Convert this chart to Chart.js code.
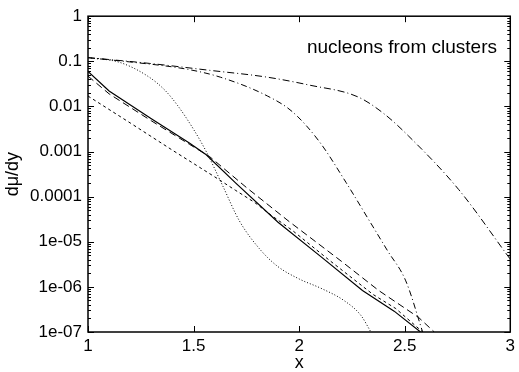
<!DOCTYPE html>
<html>
<head>
<meta charset="utf-8">
<title>nucleons from clusters</title>
<script src="https://cdn.jsdelivr.net/npm/chart.js@4/dist/chart.umd.min.js"></script>
<style>
  html, body { margin: 0; padding: 0; background: #fff; }
</style>
</head>
<body>
<canvas id="chart" width="519" height="372"></canvas>
<script>
// Axis ticks
const xTickValues = [1, 1.5, 2, 2.5, 3];
const xTickLabels = ['1', '1.5', '2', '2.5', '3'];
const yTickValues = [1, 0.1, 0.01, 0.001, 1e-4, 1e-5, 1e-6, 1e-7];
const yTickLabels = ['1', '0.1', '0.01', '0.001', '0.0001', '1e-05', '1e-06', '1e-07'];

// Solid curve
const solidX = [1, 1.1, 1.3, 1.48, 1.56, 1.7, 1.9, 2.1, 2.3, 2.45, 2.575];
const solidY = [0.06, 0.022, 5.3e-3, 1.55e-3, 8.5e-4, 2.0e-4, 2.7e-5, 4.8e-6, 8.3e-7, 2.9e-7, 1e-7];

// Long dashes (starts just under the solid, ends uppermost)
const longDashX = [1, 1.1, 1.3, 1.48, 1.575, 1.75, 1.953, 2.2, 2.377, 2.566, 2.64];
const longDashY = [0.047, 0.019, 4.8e-3, 1.45e-3, 7.8e-4, 1.6e-4, 2.8e-5, 3.7e-6, 8.3e-7, 2.1e-7, 1e-7];

// Short dashes (lowest at x = 1)
const shortDashX = [1, 1.2, 1.4, 1.6, 1.7, 1.79, 1.87, 1.967, 2.14, 2.35, 2.458, 2.585];
const shortDashY = [0.017, 4.3e-3, 1.07e-3, 2.75e-4, 1.37e-4, 7.4e-5, 3.8e-5, 1.8e-5, 4.0e-6, 6.8e-7, 3.3e-7, 1e-7];

// Dotted curve
const dottedX = [1, 1.151, 1.283, 1.363, 1.425, 1.5, 1.561, 1.637, 1.717, 1.811, 1.896, 2.0, 2.108, 2.212, 2.292, 2.34];
const dottedY = [0.121, 0.0944, 0.0468, 0.0232, 0.0104, 3.1e-3, 9.8e-4, 1.78e-4, 2.91e-5, 7.1e-6, 2.9e-6, 1.5e-6, 9.1e-7, 5.0e-7, 2.35e-7, 1e-7];

// Dash-dot, slow fall-off
const slowDotDashX = [1, 1.2925, 1.5755, 1.849, 2.047, 2.278, 2.401, 2.519, 2.755, 3.0];
const slowDotDashY = [0.121, 0.0898, 0.0632, 0.0445, 0.0298, 0.0163, 6.94e-3, 2.19e-3, 1.45e-4, 4.1e-6];

// Dash-dot, fast fall-off
const fastDotDashX = [1, 1.198, 1.472, 1.627, 1.849, 1.967, 2.094, 2.222, 2.33, 2.4175, 2.505, 2.585];
const fastDotDashY = [0.12, 0.097, 0.0664, 0.0445, 0.0171, 7.7e-3, 1.7e-3, 2.07e-4, 3.06e-5, 6.46e-6, 1.36e-6, 1e-7];

const annotationText = 'nucleons from clusters';

const FONT = '"Liberation Sans", Arial, Helvetica, sans-serif';

function toPoints(xs, ys) {
  return xs.map((x, i) => ({ x: x, y: ys[i] }));
}

function curve(xs, ys, dash, width, smooth) {
  return {
    data: toPoints(xs, ys),
    borderColor: '#000',
    borderWidth: width || 1,
    borderDash: dash,
    pointRadius: 0,
    tension: 0,
    cubicInterpolationMode: smooth ? 'monotone' : 'default',
    fill: false
  };
}

// Inward ticks on all four sides, the box and the annotation
const frameAndTicks = {
  id: 'frameAndTicks',
  afterDatasetsDraw(chart) {
    const { ctx, chartArea: a, scales: { x, y } } = chart;
    ctx.save();
    ctx.strokeStyle = '#000';
    ctx.lineWidth = 1;
    ctx.beginPath();
    for (let e = -7; e <= 0; e++) {
      for (let m = 1; m <= 9; m++) {
        const v = m * Math.pow(10, e);
        if (v > 1) break;
        const py = Math.round(y.getPixelForValue(v)) + 0.5;
        const len = m === 1 ? 6 : 3;
        ctx.moveTo(a.left, py); ctx.lineTo(a.left + len, py);
        ctx.moveTo(a.right, py); ctx.lineTo(a.right - len, py);
      }
    }
    xTickValues.forEach(v => {
      const px = Math.round(x.getPixelForValue(v)) + 0.5;
      ctx.moveTo(px, a.bottom); ctx.lineTo(px, a.bottom - 6);
      ctx.moveTo(px, a.top); ctx.lineTo(px, a.top + 6);
    });
    ctx.stroke();

    ctx.lineWidth = 1.5;
    ctx.strokeRect(a.left, a.top, a.right - a.left, a.bottom - a.top);

    ctx.fillStyle = '#000';
    ctx.font = '19px ' + FONT;
    ctx.textAlign = 'right';
    ctx.textBaseline = 'alphabetic';
    ctx.fillText(annotationText, 497, 53);
    ctx.restore();
  }
};

new Chart(document.getElementById('chart'), {
  type: 'line',
  data: {
    datasets: [
      curve(solidX, solidY, [], 1.2, false),
      curve(longDashX, longDashY, [7, 4], 1, false),
      curve(shortDashX, shortDashY, [3, 3], 1, false),
      curve(dottedX, dottedY, [1, 2], 1, true),
      curve(slowDotDashX, slowDotDashY, [7, 3, 1, 3], 1, true),
      curve(fastDotDashX, fastDotDashY, [6, 3, 1, 3], 1, true)
    ]
  },
  options: {
    responsive: false,
    animation: false,
    layout: { padding: { top: 11, right: 7, left: 0, bottom: 0 } },
    plugins: {
      legend: { display: false },
      tooltip: { enabled: false }
    },
    scales: {
      x: {
        type: 'linear',
        min: 1,
        max: 3,
        afterBuildTicks: s => { s.ticks = xTickValues.map(v => ({ value: v })); },
        afterFit: s => { s.height = 40; },
        ticks: {
          callback: (v, i) => xTickLabels[i],
          color: '#000',
          padding: 4,
          maxRotation: 0,
          autoSkip: false,
          font: { family: FONT, size: 17 }
        },
        grid: { display: false, drawTicks: false },
        border: { display: false },
        title: {
          display: true,
          text: 'x',
          color: '#000',
          padding: { top: 0, bottom: 0 },
          font: { family: FONT, size: 18, lineHeight: 1 }
        }
      },
      y: {
        type: 'logarithmic',
        min: 1e-7,
        max: 1,
        afterBuildTicks: s => { s.ticks = yTickValues.map(v => ({ value: v })); },
        afterFit: s => { s.width = 88; },
        ticks: {
          callback: (v, i) => yTickLabels[i],
          color: '#000',
          padding: 6,
          autoSkip: false,
          font: { family: FONT, size: 17 }
        },
        grid: { display: false, drawTicks: false },
        border: { display: false },
        title: {
          display: true,
          text: 'dμ/dy',
          color: '#000',
          padding: { top: 2, bottom: 0 },
          font: { family: FONT, size: 18, lineHeight: 1.2 }
        }
      }
    }
  },
  plugins: [frameAndTicks]
});
</script>
</body>
</html>
